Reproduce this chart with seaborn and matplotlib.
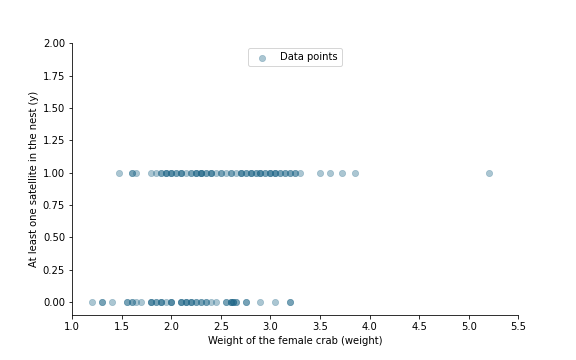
import matplotlib
matplotlib.use("Agg")
import matplotlib.pyplot as plt
import seaborn as sns
import pandas as pd

# weights (kg) of crabs with at least one satellite (y = 1)
weight_y1 = [1.475, 1.6, 1.6, 1.65, 1.8, 1.85, 1.9, 1.9, 1.95, 1.95, 1.95,
             2.0, 2.0, 2.0, 2.05, 2.05, 2.1, 2.1, 2.1, 2.15, 2.2, 2.2,
             2.25, 2.25, 2.25, 2.3, 2.3, 2.3, 2.3, 2.35, 2.35, 2.4, 2.4, 2.4,
             2.45, 2.5, 2.5, 2.55, 2.6, 2.6, 2.65, 2.7, 2.7, 2.7, 2.75, 2.75,
             2.8, 2.8, 2.8, 2.85, 2.85, 2.9, 2.9, 2.9, 2.95, 2.95,
             3.0, 3.0, 3.0, 3.05, 3.05, 3.05, 3.1, 3.1, 3.15, 3.15,
             3.2, 3.2, 3.25, 3.25, 3.3, 3.5, 3.6, 3.725, 3.85, 5.2]

# weights (kg) of crabs without satellites (y = 0)
weight_y0 = [1.2, 1.3, 1.3, 1.4, 1.55, 1.55, 1.6, 1.6, 1.65, 1.7,
             1.8, 1.8, 1.8, 1.85, 1.85, 1.9, 1.9, 1.9, 1.95, 2.0, 2.0, 2.0,
             2.1, 2.1, 2.1, 2.15, 2.15, 2.15, 2.2, 2.2, 2.2, 2.25, 2.25,
             2.3, 2.3, 2.35, 2.35, 2.4, 2.45, 2.55, 2.55, 2.6, 2.6, 2.6,
             2.625, 2.625, 2.625, 2.65, 2.65, 2.75, 2.75, 2.9, 3.05, 3.2, 3.2]

df = pd.DataFrame({
    "weight": weight_y1 + weight_y0,
    "y": [1] * len(weight_y1) + [0] * len(weight_y0),
})

fig, ax = plt.subplots(figsize=(8, 5), dpi=72)
fig.subplots_adjust(left=0.125, right=0.9, top=0.88, bottom=0.125)

sns.scatterplot(data=df, x="weight", y="y", ax=ax, color="#23698a",
                alpha=0.38, s=40, edgecolor="#23698a", linewidth=0.6,
                label="Data points")

ax.set_xlim(1.0, 5.5)
ax.set_ylim(-0.1, 2.0)
ax.set_xticks([1.0, 1.5, 2.0, 2.5, 3.0, 3.5, 4.0, 4.5, 5.0, 5.5])
ax.set_yticks([0.0, 0.25, 0.5, 0.75, 1.0, 1.25, 1.5, 1.75, 2.0])
ax.set_yticklabels([f"{v:.2f}" for v in ax.get_yticks()])
ax.set_xlabel("Weight of the female crab (weight)")
ax.set_ylabel("At least one satellite in the nest (y)")
ax.legend(loc="upper center")
sns.despine(ax=ax)

fig.savefig("out.png", dpi=72)
